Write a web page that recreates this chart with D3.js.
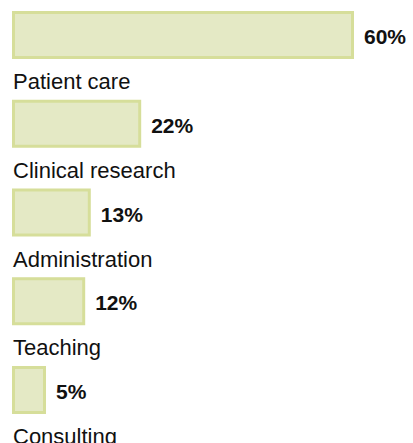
<!DOCTYPE html>
<html>
<head>
<meta charset="utf-8">
<script src="https://cdn.jsdelivr.net/npm/d3@7"></script>
<style>
  body { margin: 0; background: #fff; }
  svg { display: block; }
  text { font-family: "Liberation Sans", Arial, sans-serif; fill: #111; }
</style>
</head>
<body>
<svg id="svg" width="413" height="443"></svg>
<script>
const categories = ["Patient care", "Clinical research", "Administration", "Teaching", "Consulting"];
const values = [60, 22, 13, 12, 5];
const valueLabels = ["60%", "22%", "13%", "12%", "5%"];

const svg = d3.select("#svg");
const data = categories.map((c, i) => ({ name: c, value: values[i], label: valueLabels[i] }));

const y = d3.scaleBand()
  .domain(categories)
  .range([11, 414])
  .paddingInner(0.459)
  .paddingOuter(0);

const x = d3.scaleLinear()
  .domain([0, 60])
  .range([6, 342]);

const left = 12;

const rows = svg.selectAll(".row")
  .data(data)
  .enter()
  .append("g")
  .attr("class", "row");

rows.append("rect")
  .attr("x", left + 1.5)
  .attr("y", d => y(d.name) + 1.5)
  .attr("width", d => x(d.value) - 3)
  .attr("height", y.bandwidth() - 3)
  .attr("fill", "#e4e9c5")
  .attr("stroke", "#d6de9a")
  .attr("stroke-width", 3);

rows.append("text")
  .attr("x", d => left + x(d.value) + 10)
  .attr("y", d => y(d.name) + y.bandwidth() / 2 + 9)
  .style("font-size", "21px")
  .style("font-weight", "bold")
  .text(d => d.label);

rows.append("text")
  .attr("x", left + 1)
  .attr("y", d => y(d.name) + y.bandwidth() + 30)
  .style("font-size", "22px")
  .text(d => d.name);
</script>
</body>
</html>
